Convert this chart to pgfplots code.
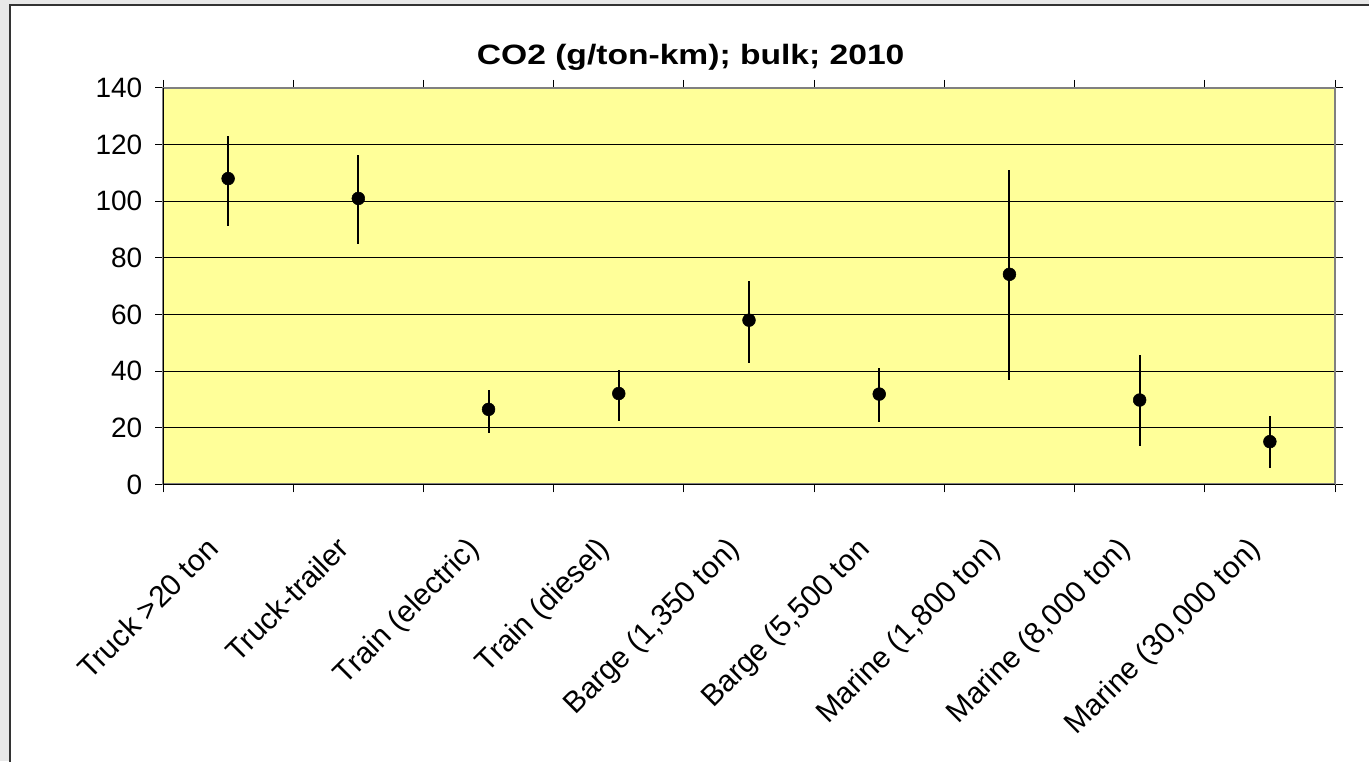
\documentclass[border=0pt]{standalone}
\usepackage{pgfplots}
\pgfplotsset{compat=1.18}
\usepackage{fontspec}
\usepackage{graphicx}
\setmainfont{Liberation Sans}
\definecolor{plotbg}{RGB}{255,255,153}
\definecolor{outergray}{RGB}{232,232,232}
\definecolor{framegray}{RGB}{128,128,128}
\begin{document}
\begin{tikzpicture}
\path[use as bounding box] (0,0) rectangle (1026.75pt,570.75pt);
\fill[outergray] (0,0) rectangle (1026.75pt,570.75pt);
\filldraw[fill=white, draw=black!80, line width=1.5pt] (7.5pt,-10pt) rectangle (1040pt,567pt);
\node at (518pt,527.5pt) {\scalebox{1.2}[1]{\fontsize{21}{25}\selectfont\bfseries CO2 (g/ton-km); bulk; 2010}};
\begin{axis}[
  at={(122.25pt,207.45pt)}, anchor=south west,
  scale only axis, width=879pt, height=297.3pt,
  xmin=0.5, xmax=9.5, ymin=0, ymax=140,
  axis background/.style={fill=plotbg},
  axis line style={draw=framegray, line width=1.5pt},
  ytick={0,20,...,140},
  ymajorgrids, grid style={black, line width=0.75pt},
  tick align=outside, major tick length=6pt, minor tick length=6pt,
  tick style={black, line width=0.75pt},
  xtick={1,...,9},
  xticklabels={Truck >20 ton, Truck-trailer, Train (electric), Train (diesel), {Barge (1,350 ton)}, {Barge (5,500 ton}, {Marine (1,800 ton)}, {Marine (8,000 ton)}, {Marine (30,000 ton)}},
  major x tick style={draw=none},
  minor xtick={0.5,1.5,...,9.5},
  ticklabel style={font=\fontsize{21}{25}\selectfont},
  /pgf/number format/assume math mode=true,
  yticklabel style={xshift=-6pt},
  xticklabel style={font=\fontsize{22.5}{26}\selectfont, xshift=-17.5pt, yshift=-32pt, rotate=45, anchor=north east, inner sep=0pt},
  clip=false,
]
\addplot[only marks, mark=*, mark size=4.8pt, black,
  error bars/.cd, y dir=both, y explicit, error mark=none,
  error bar style={line width=1.5pt, black}]
  coordinates {
  (1,108.0) += (0,15.2) -= (0,16.7)
  (2,101.0) += (0,15.3) -= (0,16.0)
  (3,26.5) += (0,6.8) -= (0,8.3)
  (4,32.1) += (0,8.3) -= (0,9.7)
  (5,58.0) += (0,13.9) -= (0,15.1)
  (6,31.9) += (0,9.1) -= (0,9.8)
  (7,74.2) += (0,36.7) -= (0,37.4)
  (8,29.8) += (0,15.8) -= (0,16.1)
  (9,15.1) += (0,9.0) -= (0,9.2)
  };
\draw[black, line width=0.75pt] (rel axis cs:0,1) -- (rel axis cs:0,0) -- (rel axis cs:1,0);
\end{axis}
\end{tikzpicture}
\end{document}
